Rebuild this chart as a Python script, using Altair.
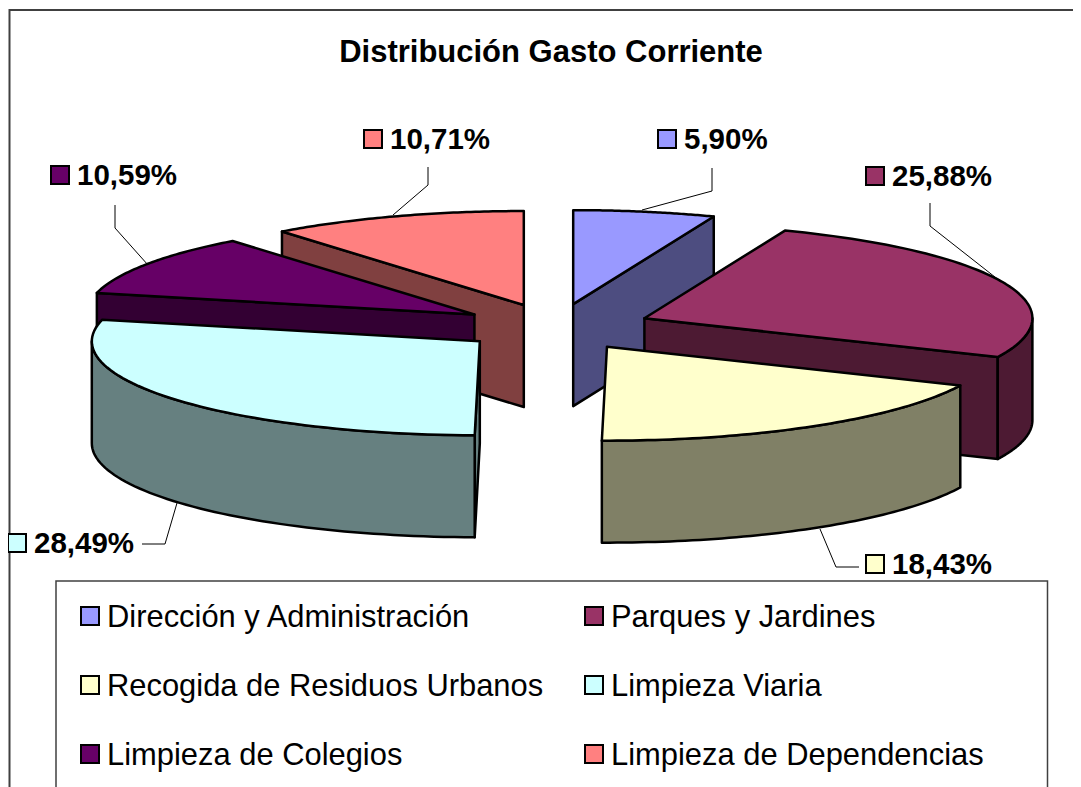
import numpy as np
import pandas as pd
import altair as alt

# ---- data ----
categories = ["Dirección y Administración", "Parques y Jardines", "Recogida de Residuos Urbanos",
              "Limpieza Viaria", "Limpieza de Colegios", "Limpieza de Dependencias"]
shares = [5.90, 25.88, 18.43, 28.49, 10.59, 10.71]
share_labels = ["5,90%", "25,88%", "18,43%", "28,49%", "10,59%", "10,71%"]
title_text = "Distribución Gasto Corriente"

# ---- style ----
top_colors = ["#9999FF", "#993366", "#FFFFCC", "#CCFFFF", "#660066", "#FF8080"]
side_colors = ["#4D4D80", "#4D1A33", "#808066", "#668080", "#330033", "#804040"]

# ---- layout (image pixels) ----
W, H = 1065, 779
CX, CY, EXPLODE, RX, RY, DEPTH = 555.5, 327.0, 96.0, 388.0, 94.0, 102.0
draw_order = [5, 0, 1, 4, 2, 3]
label_swatch = [(667, 139), (875, 176), (875, 564), (17, 543), (60, 175), (373, 139)]
leaders = [
    [(712, 168), (712, 191), (642, 210)],
    [(930, 203), (930, 226), (1000, 281)],
    [(859, 567), (836, 567), (820, 529)],
    [(142, 544), (165, 544), (177, 503)],
    [(115, 205), (115, 228), (148, 265)],
    [(428, 167), (428, 185), (393, 215)],
]
legend_cols = [90, 594]
legend_rows = [616, 685, 754]

x_enc = alt.X("x:Q", scale=alt.Scale(domain=[8, 8 + W], nice=False, zero=False), axis=None)
y_enc = alt.Y("y:Q", scale=alt.Scale(domain=[8 + H, 8], nice=False, zero=False), axis=None)


def poly(points, **mark):
    df = pd.DataFrame(points, columns=["x", "y"])
    df["i"] = range(len(df))
    return alt.Chart(df).mark_line(**mark).encode(x=x_enc, y=y_enc, order=alt.Order("i:Q"))


def rim(ax, ay, a, b, dz=0.0):
    th = np.radians(np.linspace(a, b, 60))
    return [(ax + RX * np.sin(t), ay - RY * np.cos(t) + dz) for t in th]


layers = []

# background frame
layers.append(poly([(9.5, 790), (9.5, 10), (1085, 10)], stroke="#404040", strokeWidth=2, clip=True))

# pie
ang = np.cumsum([0] + [s * 3.6 for s in shares])
for k in draw_order:
    a, b = ang[k], ang[k + 1]
    m = np.radians((a + b) / 2)
    ax = CX + EXPLODE * np.sin(m)
    ay = CY - EXPLODE * RY / RX * np.cos(m)
    style = dict(stroke="black", strokeWidth=2.5, strokeJoin="round", strokeCap="round")
    side = dict(fill=side_colors[k], **style)
    # end wall faces the viewer on the right half, start wall on the left half
    if 0 < b < 180:
        e = rim(ax, ay, b, b, 0)[0]
        layers.append(poly([(ax, ay), e, (e[0], e[1] + DEPTH), (ax, ay + DEPTH), (ax, ay)], **side))
    if 180 < a < 360:
        e = rim(ax, ay, a, a, 0)[0]
        layers.append(poly([(ax, ay), e, (e[0], e[1] + DEPTH), (ax, ay + DEPTH), (ax, ay)], **side))
    # outer rim, front half only
    lo, hi = max(a, 90), min(b, 270)
    if lo < hi:
        front = rim(ax, ay, lo, hi)
        back = rim(ax, ay, hi, lo, DEPTH)
        layers.append(poly(front + back + [front[0]], **side))
    # top face
    arc = rim(ax, ay, a, b)
    layers.append(poly([(ax, ay)] + arc + [(ax, ay)], fill=top_colors[k], **style))

# leader lines
for pts in leaders:
    layers.append(poly(pts, stroke="black", strokeWidth=1))

# title
font = "Liberation Sans"
layers.append(alt.Chart(pd.DataFrame({"x": [551], "y": [52.5], "t": [title_text]})).mark_text(
    font=font, fontSize=31, fontWeight="bold", color="black", align="center", baseline="middle"
).encode(x=x_enc, y=y_enc, text="t:N"))

# data labels
lab = pd.DataFrame({"x": [p[0] for p in label_swatch], "y": [p[1] for p in label_swatch],
                    "t": share_labels, "c": categories})
color_scale = alt.Scale(domain=categories, range=top_colors)
layers.append(alt.Chart(lab).mark_square(size=324, stroke="black", strokeWidth=2, opacity=1).encode(
    x=x_enc, y=y_enc, fill=alt.Fill("c:N", scale=color_scale, legend=None)))
layers.append(alt.Chart(lab).mark_text(
    font=font, fontSize=29.5, fontWeight="bold", color="black", align="left", baseline="middle", dx=17, dy=1
).encode(x=x_enc, y=y_enc, text="t:N"))

# legend box
layers.append(poly([(56, 790), (56, 581), (1047.5, 581), (1047.5, 790)],
                   stroke="#404040", strokeWidth=1.5, fill="white", clip=True))
leg = pd.DataFrame({
    "x": [legend_cols[i % 2] for i in range(6)],
    "y": [legend_rows[i // 2] for i in range(6)],
    "c": categories,
})
layers.append(alt.Chart(leg).mark_square(size=324, stroke="black", strokeWidth=2, opacity=1).encode(
    x=x_enc, y=y_enc, fill=alt.Fill("c:N", scale=color_scale, legend=None)))
layers.append(alt.Chart(leg).mark_text(
    font=font, fontSize=30.9, color="black", align="left", baseline="middle", dx=17, dy=2
).encode(x=x_enc, y=y_enc, text="c:N"))

chart = alt.layer(*layers).properties(
    width=W, height=H, padding=0, autosize=alt.AutoSizeParams(type="none"), background="white"
).configure_view(stroke=None)

chart.save("out.html", embed_options={"renderer": "svg", "actions": False})
